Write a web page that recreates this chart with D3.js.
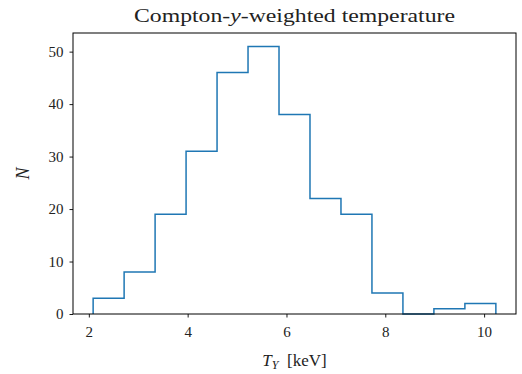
<!DOCTYPE html>
<html><head><meta charset="utf-8">
<script src="https://cdn.jsdelivr.net/npm/d3@7"></script>
<style>body{margin:0;background:#fff}svg{display:block}text{font-family:"Liberation Serif","DejaVu Serif",serif;fill:#222}</style>
</head><body><svg id="c" width="522" height="374"></svg>
<script>
const binEdges = [2.087, 2.714, 3.341, 3.968, 4.595, 5.222, 5.849, 6.476, 7.103, 7.730, 8.357, 8.984, 9.611, 10.238];
const counts = [3, 8, 19, 31, 46, 51, 38, 22, 19, 4, 0, 1, 2];
const xTicks = [2, 4, 6, 8, 10];
const yTicks = [0, 10, 20, 30, 40, 50];
const title = "Compton-";

const svg = d3.select("#c");
const m = {l: 73, r: 6, t: 33, b: 60};
const W = 522, H = 374;
const span = binEdges[binEdges.length-1] - binEdges[0];
const x = d3.scaleLinear().domain([binEdges[0] - 0.05*span, binEdges[binEdges.length-1] + 0.05*span]).range([m.l, W - m.r]);
const y = d3.scaleLinear().domain([0, d3.max(counts)*1.05]).range([H - m.b, m.t]);

// histogram step outline
const pts = [[binEdges[0], 0]];
counts.forEach((c, i) => { pts.push([binEdges[i], c]); pts.push([binEdges[i+1], c]); });
pts.push([binEdges[binEdges.length-1], 0]);
svg.append("path").attr("d", d3.line().x(d => x(d[0])).y(d => y(d[1]))(pts))
  .attr("fill", "none").attr("stroke", "#1f77b4").attr("stroke-width", 1.5).attr("stroke-linejoin", "miter");

// axes
const gx = svg.append("g").attr("transform", `translate(0,${H - m.b})`)
  .call(d3.axisBottom(x).tickValues(xTicks).tickSize(3.5).tickPadding(6).tickFormat(d3.format("d")));
const gy = svg.append("g").attr("transform", `translate(${m.l},0)`)
  .call(d3.axisLeft(y).tickValues(yTicks).tickSize(3.5).tickPadding(6).tickFormat(d3.format("d")));
[gx, gy].forEach(g => {
  g.select(".domain").remove();
  g.selectAll(".tick line").attr("stroke", "#000").attr("stroke-width", 0.9);
  g.selectAll(".tick text").style("font-size", "15px").attr("fill", "#222");
});
gx.selectAll(".tick text").attr("dy", "0.9em");
// frame
svg.append("rect").attr("x", m.l).attr("y", m.t).attr("width", W - m.r - m.l).attr("height", H - m.b - m.t)
  .attr("fill", "none").attr("stroke", "#000").attr("stroke-width", 1);

// title
const t = svg.append("text").attr("x", (m.l + W - m.r)/2).attr("y", 21.5).attr("text-anchor", "middle")
  .style("font-size", "19px").attr("textLength", 321).attr("lengthAdjust", "spacingAndGlyphs");
t.append("tspan").text(title);
t.append("tspan").text("y").style("font-style", "italic");
t.append("tspan").text("-weighted temperature");

// x label
const xl = svg.append("text").attr("x", (m.l + W - m.r)/2).attr("y", 366).attr("text-anchor", "middle").style("font-size", "17px");
xl.append("tspan").text("T").style("font-style", "italic");
xl.append("tspan").text("Y").style("font-style", "italic").style("font-size", "12px").attr("dy", 3);
xl.append("tspan").text("\u2002[keV]").attr("dy", -3);

// y label
svg.append("text").attr("transform", `translate(29,${(m.t + H - m.b)/2}) rotate(-90)`).attr("text-anchor", "middle")
  .style("font-size", "18px").style("font-style", "italic").text("N");
</script></body></html>
